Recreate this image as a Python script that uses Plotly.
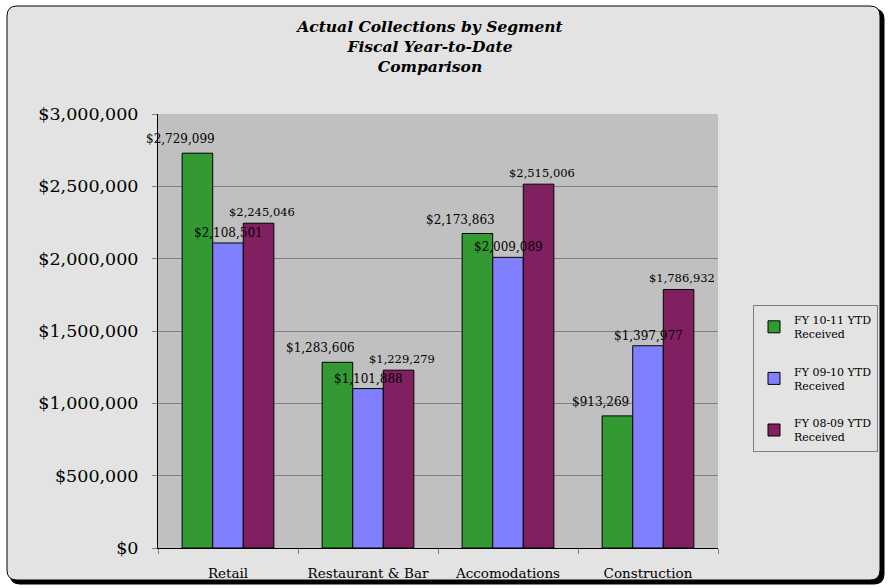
import plotly.graph_objects as go

# ---- data ----
categories = ["Retail", "Restaurant &amp; Bar", "Accomodations", "Construction"]
series_names = ["FY 10-11 YTD<br>Received", "FY 09-10 YTD<br>Received", "FY 08-09 YTD<br>Received"]
fy_10_11 = [2729099, 1283606, 2173863, 913269]
fy_09_10 = [2108501, 1101888, 2009089, 1397977]
fy_08_09 = [2245046, 1229279, 2515006, 1786932]
y_tick_values = [0, 500000, 1000000, 1500000, 2000000, 2500000, 3000000]
title_lines = ["Actual Collections by Segment", "Fiscal Year-to-Date", "Comparison"]

# ---- styling ----
W, H = 888, 588
ML, MR, MT, MB = 158, 170, 114, 40
PW, PH = W - ML - MR, H - MT - MB
FONT = "DejaVu Serif"
colors = ["#339933", "#8080ff", "#802060"]
bargap = 0.345
bar_px = PW / len(categories) * (1 - bargap) / 3
label_dx = [-17, 0, 3]
label_dy = [14, 10, 11]
label_size = [12, 12, 11.5]

series_values = [fy_10_11, fy_09_10, fy_08_09]

fig = go.Figure()
for name, vals, col in zip(series_names, series_values, colors):
    fig.add_trace(go.Bar(
        x=categories, y=vals, name=name, legendgroup=name,
        marker=dict(color=col, line=dict(color="black", width=1)),
    ))

annotations = []
for si, vals in enumerate(series_values):
    for ci, v in enumerate(vals):
        annotations.append(dict(
            x=categories[ci], y=v, xref="x", yref="y",
            text=f"${v:,}", showarrow=False,
            xshift=(si - 1) * bar_px + label_dx[si], yshift=label_dy[si],
            yanchor="middle", xanchor="center",
            font=dict(family=FONT, size=label_size[si], color="black"),
        ))


def px_x(X):
    return (X - ML) / PW


def px_y(Y):
    return (H - MB - Y) / PH


def rounded(x0, y0, x1, y1, r):
    rx = r / PW
    ry = r / PH
    X0, X1 = px_x(x0), px_x(x1)
    Y0, Y1 = px_y(y0), px_y(y1)  # Y0 top (larger), Y1 bottom
    return (f"M {X0+rx},{Y0} L {X1-rx},{Y0} Q {X1},{Y0} {X1},{Y0-ry} "
            f"L {X1},{Y1+ry} Q {X1},{Y1} {X1-rx},{Y1} "
            f"L {X0+rx},{Y1} Q {X0},{Y1} {X0},{Y1+ry} "
            f"L {X0},{Y0-ry} Q {X0},{Y0} {X0+rx},{Y0} Z")


shapes = [
    dict(type="path", xref="paper", yref="paper", layer="below",
         path=rounded(10, 9, 884, 584, 10), fillcolor="black",
         line=dict(color="black", width=1)),
    dict(type="path", xref="paper", yref="paper", layer="below",
         path=rounded(7, 6, 880, 580, 10), fillcolor="#e3e3e3",
         line=dict(color="black", width=1)),
    dict(type="rect", xref="paper", yref="paper", layer="below",
         x0=0, x1=1, y0=0, y1=1, fillcolor="#c0c0c0",
         line=dict(width=0)),
]

fig.update_layout(
    width=W, height=H,
    margin=dict(l=ML, r=MR, t=MT, b=MB, autoexpand=False),
    paper_bgcolor="white", plot_bgcolor="#c0c0c0",
    barmode="group", bargap=bargap, bargroupgap=0,
    font=dict(family=FONT, color="black"),
    title=dict(
        text="<b><i>" + "<br>".join(title_lines) + "</i></b>",
        x=430 / W, xanchor="center", xref="container",
        y=1 - 32 / H, yanchor="top", yref="container",
        font=dict(family=FONT, size=15.5, color="black"),
    ),
    legend=dict(
        x=px_x(753), y=px_y(305), xanchor="left", yanchor="top",
        bgcolor="rgba(0,0,0,0)", bordercolor="#808080", borderwidth=1,
        font=dict(family=FONT, size=11, color="black"),
        tracegroupgap=20, traceorder="grouped",
    ),
    showlegend=True,
    shapes=shapes,
    annotations=annotations,
)

fig.update_yaxes(
    range=[0, 3000000], tickvals=y_tick_values, tickformat="$,.0f",
    showgrid=True, gridcolor="#808080", gridwidth=1,
    zeroline=False, showline=True, linecolor="black", linewidth=1,
    ticks="outside", ticklen=5, tickcolor="#808080",
    tickfont=dict(family=FONT, size=17.5, color="black"),
    ticklabelstandoff=10, automargin=False,
)
fig.update_xaxes(
    range=[-0.5, 3.5], autorange=False,
    showline=True, linecolor="black", linewidth=1,
    ticks="outside", ticklen=5, tickcolor="#808080", tickson="boundaries",
    tickfont=dict(family=FONT, size=13.5, color="black"),
    ticklabelstandoff=13, automargin=False,
)

fig.write_html("out.html")
